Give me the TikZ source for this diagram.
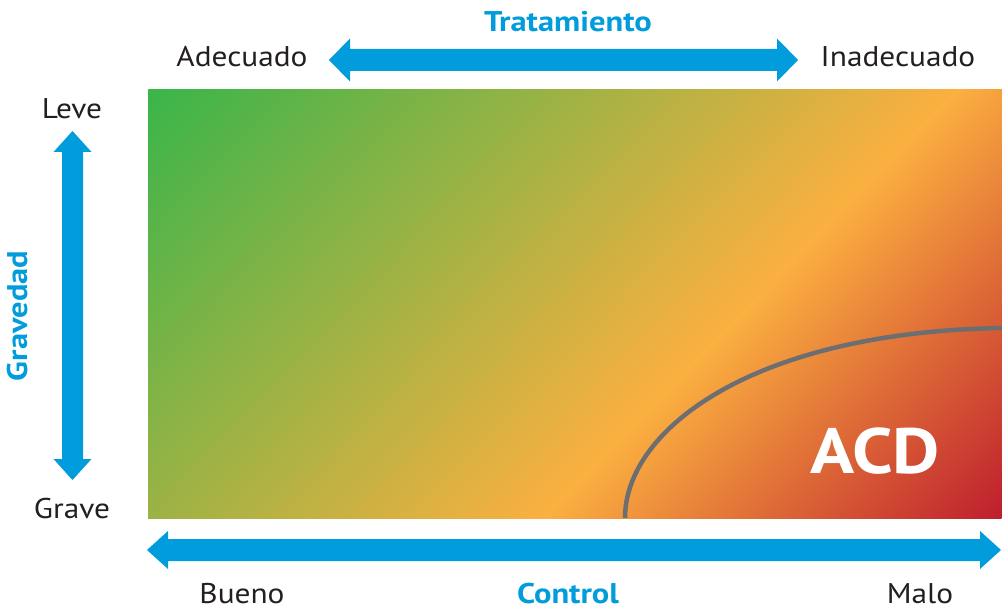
\documentclass[tikz,border=0pt]{standalone}
\usepackage{fontspec}
\setmainfont{PT Sans}
\newfontfamily\lblfont[FakeStretch=1.1]{PT Sans}
\newfontfamily\ttlfont[FakeStretch=1.14]{PT Sans}
\definecolor{cblue}{RGB}{0,156,219}
\definecolor{ctext}{RGB}{35,31,32}
\definecolor{cgreen}{RGB}{57,181,74}
\definecolor{corange}{RGB}{251,176,64}
\definecolor{cred}{RGB}{190,30,45}
\definecolor{cgray}{RGB}{109,110,113}
\pgfdeclarehorizontalshading{diagshade}{100bp}{color(0bp)=(cgreen); color(25bp)=(cgreen); color(56.9bp)=(corange); color(75bp)=(cred); color(100bp)=(cred)}
\tikzset{
  arr/.style={fill=cblue},
  lbl/.style={text=ctext, font=\lblfont\fontsize{28.5}{30}\selectfont, anchor=base, inner sep=0pt, text depth=0pt},
  ttl/.style={text=cblue, font=\ttlfont\bfseries\fontsize{28.5}{30}\selectfont, anchor=base, inner sep=0pt, text depth=0pt},
  curveline/.style={draw=cgray, line width=4.5pt},
}
\begin{document}
\begin{tikzpicture}[x=1pt,y=-1pt]
\useasboundingbox (0,0) rectangle (1002,607);
% gradient field
\begin{scope}
\clip (148,90) rectangle (1002,518);
\begin{scope}[transform canvas={shift={(148,90)}, rotate=-44}]
\shade[shading=diagshade] (0,-1500) rectangle (911.6,1500);
\end{scope}
\end{scope}
% boundary curve
\coordinate (cstart) at (625,518);
\coordinate (cend) at (1002,328);
\draw[curveline] (cstart) .. controls (625,430) and (752,332) .. (cend);
% arrows
\fill[arr] (329,60) -- (350,38.5) -- (350,49) -- (777,49) -- (777,38.5) -- (798,60) -- (777,81.5) -- (777,71) -- (350,71) -- (350,81.5) -- cycle;
\fill[arr] (72.5,131) -- (91.5,152) -- (83,152) -- (83,459) -- (91.5,459) -- (72.5,480) -- (53.5,459) -- (62,459) -- (62,152) -- (53.5,152) -- cycle;
\fill[arr] (147,550) -- (168,531) -- (168,539) -- (980,539) -- (980,531) -- (1001,550) -- (980,569) -- (980,561) -- (168,561) -- (168,569) -- cycle;
% labels
\node[ttl] (trat) at (568,32) {Tratamiento};
\node[lbl] (adec) at (242,67) {Adecuado};
\node[lbl] (inad) at (898,67) {Inadecuado};
\node[lbl] (leve) at (72,119) {Leve};
\node[lbl] (grave) at (72,518) {Grave};
\node[ttl, anchor=center, rotate=90] (grav) at (17,316) {Gravedad};
\node[lbl] (bueno) at (242,603) {Bueno};
\node[ttl] (ctrl) at (568,603) {Control};
\node[lbl] (malo) at (920,603) {Malo};
\node[text=white, font=\ttlfont\bfseries\fontsize{64}{66}\selectfont, anchor=base, inner sep=0pt] (acd) at (875,473) {ACD};
\end{tikzpicture}
\end{document}
